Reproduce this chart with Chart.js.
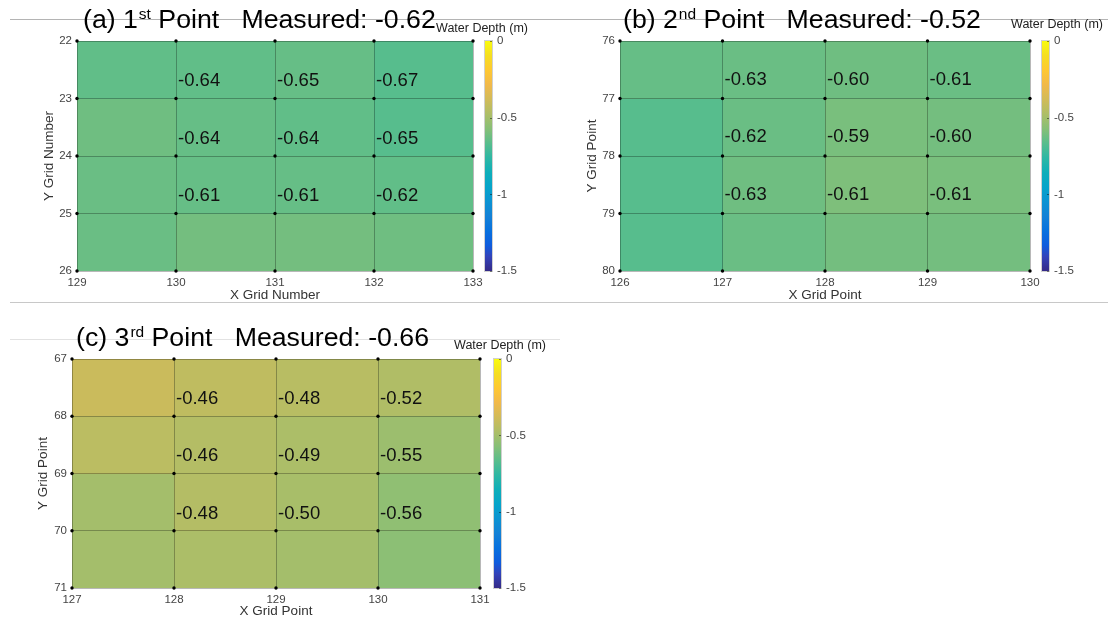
<!DOCTYPE html>
<html>
<head>
<meta charset="utf-8">
<title>Water depth around measured points</title>
<script src="https://cdn.jsdelivr.net/npm/chart.js@4.4.1/dist/chart.umd.min.js"></script>
<style>
  html, body { margin: 0; padding: 0; background: #fff; }
  #page { position: relative; width: 1108px; height: 622px; overflow: hidden; }
  #page canvas { position: absolute; }
  .rule { position: absolute; height: 1px; }
</style>
</head>
<body>
<div id="page">
  <div class="rule" style="left:10px;top:19px;width:1098px;background:#b4b4b4"></div>
  <div class="rule" style="left:10px;top:302px;width:1098px;background:#c8c8c8"></div>
  <div class="rule" style="left:10px;top:339px;width:550px;background:#e2e2e2"></div>
  <canvas id="panelA" width="560" height="310" style="left:0;top:0"></canvas>
  <canvas id="panelB" width="548" height="310" style="left:560px;top:0"></canvas>
  <canvas id="panelC" width="560" height="306" style="left:0;top:316px"></canvas>
</div>
<script>
// grid node numbers along each axis
const xGridA = [129, 130, 131, 132, 133];
const yGridA = [22, 23, 24, 25, 26];
const xGridB = [126, 127, 128, 129, 130];
const yGridB = [76, 77, 78, 79, 80];
const xGridC = [127, 128, 129, 130, 131];
const yGridC = [67, 68, 69, 70, 71];

// depth (m) at the upper-left node of every cell, rows follow y, columns follow x
// the inner 3x3 nodes are the labelled ones
const depthA = [
  [-0.65, -0.65, -0.64, -0.67],
  [-0.62, -0.64, -0.65, -0.67],
  [-0.63, -0.64, -0.64, -0.65],
  [-0.63, -0.61, -0.61, -0.62]
];
const depthB = [
  [-0.64, -0.63, -0.62, -0.63],
  [-0.67, -0.63, -0.60, -0.61],
  [-0.67, -0.62, -0.59, -0.60],
  [-0.67, -0.63, -0.61, -0.61]
];
const depthC = [
  [-0.40, -0.43, -0.45, -0.47],
  [-0.44, -0.46, -0.48, -0.52],
  [-0.50, -0.46, -0.49, -0.55],
  [-0.50, -0.48, -0.50, -0.56]
];

const measuredA = -0.62;
const measuredB = -0.52;
const measuredC = -0.66;

const depthTicks = [0, -0.5, -1, -1.5];

const FONT = "'Liberation Sans', Arial, Helvetica, sans-serif";

// parula colormap, sampled stops
const parula = [
  [0.000, [0.2081, 0.1663, 0.5292]],
  [0.063, [0.1959, 0.2645, 0.7279]],
  [0.111, [0.0591, 0.3598, 0.8683]],
  [0.175, [0.0329, 0.4430, 0.8720]],
  [0.238, [0.0779, 0.5040, 0.8384]],
  [0.302, [0.0488, 0.5772, 0.8228]],
  [0.365, [0.0231, 0.6418, 0.7913]],
  [0.429, [0.0590, 0.6838, 0.7254]],
  [0.492, [0.1801, 0.7177, 0.6424]],
  [0.556, [0.3482, 0.7424, 0.5473]],
  [0.619, [0.5300, 0.7491, 0.4661]],
  [0.683, [0.6834, 0.7435, 0.4044]],
  [0.746, [0.8185, 0.7327, 0.3498]],
  [0.810, [0.9450, 0.7261, 0.2886]],
  [0.873, [0.9955, 0.7861, 0.1967]],
  [0.937, [0.9626, 0.8705, 0.1309]],
  [1.000, [0.9763, 0.9831, 0.0538]]
];

function rgb(c) {
  return 'rgb(' + c.map(v => Math.round(v * 255)).join(',') + ')';
}

function parulaAt(t) {
  t = Math.max(0, Math.min(1, t));
  for (let i = 1; i < parula.length; i++) {
    const [t1, c1] = parula[i];
    if (t <= t1) {
      const [t0, c0] = parula[i - 1];
      const f = (t - t0) / (t1 - t0);
      return rgb(c0.map((v, k) => v + (c1[k] - v) * f));
    }
  }
  return rgb(parula[parula.length - 1][1]);
}

// filled cells, drawn before the grid so the cell edges sit on top
const cellPlugin = {
  id: 'cells',
  beforeDraw(chart, args, opts) {
    const { ctx, scales: { x, y, cb } } = chart;
    const xs = opts.xGrid, ys = opts.yGrid;
    ctx.save();
    opts.depth.forEach((row, i) => {
      row.forEach((v, j) => {
        const x0 = Math.round(x.getPixelForValue(xs[j]));
        const x1 = Math.round(x.getPixelForValue(xs[j + 1]));
        const y0 = Math.round(y.getPixelForValue(ys[i]));
        const y1 = Math.round(y.getPixelForValue(ys[i + 1]));
        ctx.fillStyle = parulaAt((v - cb.min) / (cb.max - cb.min));
        ctx.fillRect(x0, y0, x1 - x0, y1 - y0);
      });
    });
    ctx.restore();
  }
};

// node values printed up and to the right of each inner node
const labelPlugin = {
  id: 'nodeLabels',
  afterDatasetsDraw(chart, args, opts) {
    const { ctx, scales: { x, y } } = chart;
    ctx.save();
    ctx.font = '18.5px ' + FONT;
    ctx.fillStyle = '#111';
    ctx.textAlign = 'left';
    ctx.textBaseline = 'middle';
    for (let i = 1; i < opts.depth.length; i++) {
      for (let j = 1; j < opts.depth[i].length; j++) {
        const px = x.getPixelForValue(opts.xGrid[j]) + 2;
        const py = y.getPixelForValue(opts.yGrid[i] - opts.lift);
        ctx.fillText(opts.depth[i][j].toFixed(2), px, py);
      }
    }
    ctx.restore();
  }
};

// colour bar next to the plot, following the cb scale
const colorbarPlugin = {
  id: 'colorbar',
  afterDraw(chart, args, opts) {
    const { ctx, chartArea, scales: { cb } } = chart;
    const x0 = chartArea.right + opts.gap;
    const yTop = cb.getPixelForValue(cb.max);
    const yBot = cb.getPixelForValue(cb.min);
    const grad = ctx.createLinearGradient(0, yBot, 0, yTop);
    parula.forEach(([t, c]) => grad.addColorStop(t, rgb(c)));
    ctx.save();
    ctx.fillStyle = grad;
    ctx.fillRect(x0, yTop, opts.width, yBot - yTop);
    ctx.strokeStyle = '#d0d0d0';
    ctx.lineWidth = 1;
    ctx.strokeRect(x0 - 0.5, yTop - 0.5, opts.width + 1, yBot - yTop + 1);
    ctx.strokeStyle = 'rgba(0,0,0,0.45)';
    depthTicks.forEach(v => {
      const ty = Math.round(cb.getPixelForValue(v)) + 0.5;
      ctx.beginPath();
      ctx.moveTo(x0 + opts.width - 2, ty);
      ctx.lineTo(x0 + opts.width, ty);
      ctx.stroke();
    });
    ctx.font = '12.5px ' + FONT;
    ctx.fillStyle = '#222';
    ctx.textAlign = 'center';
    ctx.textBaseline = 'middle';
    ctx.fillText('Water Depth (m)', opts.captionX, opts.captionY);
    ctx.restore();
  }
};

// panel heading with superscript ordinal
const headingPlugin = {
  id: 'heading',
  afterDraw(chart, args, opts) {
    const ctx = chart.ctx;
    ctx.save();
    ctx.fillStyle = '#000';
    ctx.textAlign = 'left';
    ctx.textBaseline = 'alphabetic';
    let x = opts.x;
    ctx.font = '26.7px ' + FONT;
    ctx.fillText(opts.lead, x, opts.y);
    x += ctx.measureText(opts.lead).width + 1;
    ctx.font = '15.5px ' + FONT;
    ctx.fillText(opts.sup, x, opts.y - 9);
    x += ctx.measureText(opts.sup).width;
    ctx.font = '26.7px ' + FONT;
    ctx.fillText(opts.rest, x, opts.y);
    ctx.restore();
  }
};

function makePanel(id, p) {
  const nodes = [];
  p.yGrid.forEach(yv => p.xGrid.forEach(xv => nodes.push({ x: xv, y: yv })));

  const tickFont = { family: FONT, size: 11.5 };
  const titleFont = { family: FONT, size: 13.5 };
  const gridColor = 'rgba(0,0,0,0.28)';

  return new Chart(document.getElementById(id), {
    type: 'scatter',
    data: {
      datasets: [{
        data: nodes,
        pointRadius: 1.7,
        pointBackgroundColor: '#000',
        pointBorderWidth: 0,
        clip: false
      }]
    },
    plugins: [cellPlugin, labelPlugin, colorbarPlugin, headingPlugin],
    options: {
      responsive: false,
      animation: false,
      devicePixelRatio: 1,
      events: [],
      layout: { padding: { top: p.top, left: 0, right: 0, bottom: 0 } },
      plugins: {
        legend: { display: false },
        tooltip: { enabled: false },
        cells: { depth: p.depth, xGrid: p.xGrid, yGrid: p.yGrid },
        nodeLabels: { depth: p.depth, xGrid: p.xGrid, yGrid: p.yGrid, lift: p.lift },
        colorbar: { gap: p.barGap, width: 7, captionX: p.captionX, captionY: p.captionY },
        heading: {
          x: p.headX, y: p.headY,
          lead: p.lead, sup: p.sup,
          rest: ' Point   Measured: ' + p.measured.toFixed(2)
        }
      },
      scales: {
        x: {
          type: 'linear',
          min: p.xGrid[0],
          max: p.xGrid[p.xGrid.length - 1],
          afterBuildTicks: s => { s.ticks = p.xGrid.map(v => ({ value: v })); },
          grid: { color: gridColor, lineWidth: 1, drawTicks: false },
          border: { display: false },
          ticks: { font: tickFont, color: '#444', padding: 5, maxRotation: 0, autoSkip: false },
          title: { display: true, text: p.xTitle, font: titleFont, color: '#333', padding: { top: 0, bottom: p.xTitlePad } },
          afterFit: s => { s.height = p.xHeight; s.paddingLeft = 0; s.paddingRight = 0; }
        },
        y: {
          type: 'linear',
          reverse: true,
          min: p.yGrid[0],
          max: p.yGrid[p.yGrid.length - 1],
          afterBuildTicks: s => { s.ticks = p.yGrid.map(v => ({ value: v })); },
          grid: { color: gridColor, lineWidth: 1, drawTicks: false },
          border: { display: false },
          ticks: { font: tickFont, color: '#444', padding: 5, autoSkip: false },
          title: { display: true, text: p.yTitle, font: titleFont, color: '#333', padding: { top: p.yTitlePad, bottom: 0 } },
          afterFit: s => { s.width = p.yWidth; s.paddingTop = 0; s.paddingBottom = 0; }
        },
        cb: {
          type: 'linear',
          position: 'right',
          min: -1.5,
          max: 0,
          afterBuildTicks: s => { s.ticks = depthTicks.map(v => ({ value: v })); },
          grid: { display: false, drawTicks: false },
          border: { display: false },
          ticks: { font: tickFont, color: '#444', padding: p.cbPad, callback: v => String(v) },
          afterFit: s => { s.width = p.cbWidth; s.paddingTop = 0; s.paddingBottom = 0; }
        }
      }
    }
  });
}

makePanel('panelA', {
  xGrid: xGridA, yGrid: yGridA, depth: depthA, measured: measuredA,
  lead: '(a) 1', sup: 'st', headX: 83, headY: 28,
  xTitle: 'X Grid Number', yTitle: 'Y Grid Number',
  top: 41, yWidth: 77, xHeight: 39, cbWidth: 87, cbPad: 24,
  yTitlePad: 41, xTitlePad: 7, barGap: 12, lift: 0.3,
  captionX: 482, captionY: 29
});

makePanel('panelB', {
  xGrid: xGridB, yGrid: yGridB, depth: depthB, measured: measuredB,
  lead: '(b) 2', sup: 'nd', headX: 63, headY: 28,
  xTitle: 'X Grid Point', yTitle: 'Y Grid Point',
  top: 41, yWidth: 60, xHeight: 39, cbWidth: 78, cbPad: 24,
  yTitlePad: 24, xTitlePad: 7, barGap: 12, lift: 0.33,
  captionX: 497, captionY: 25
});

makePanel('panelC', {
  xGrid: xGridC, yGrid: yGridC, depth: depthC, measured: measuredC,
  lead: '(c) 3', sup: 'rd', headX: 76, headY: 30,
  xTitle: 'X Grid Point', yTitle: 'Y Grid Point',
  top: 43, yWidth: 72, xHeight: 34, cbWidth: 80, cbPad: 26,
  yTitlePad: 35, xTitlePad: 3, barGap: 14, lift: 0.3,
  captionX: 500, captionY: 30
});
</script>
</body>
</html>
